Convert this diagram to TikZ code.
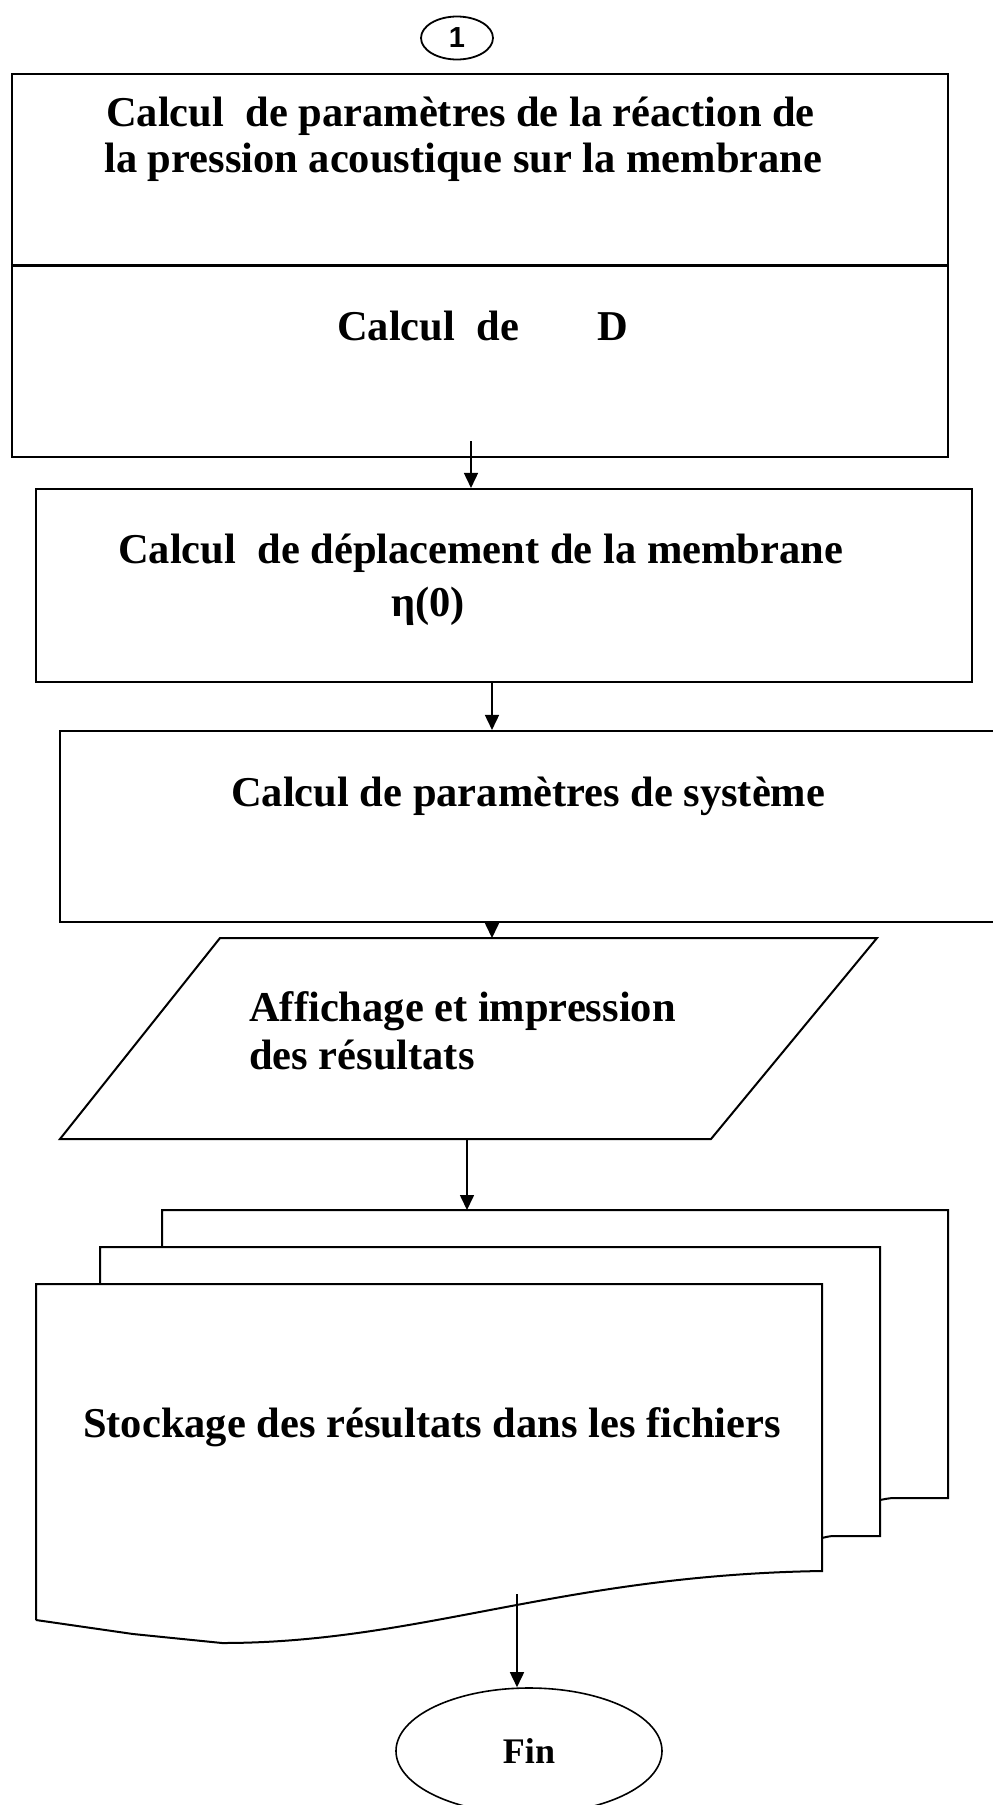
\documentclass[tikz,border=0pt]{standalone}
\usepackage{fontspec}
\setmainfont{Liberation Serif}
\newfontfamily\numfont{Liberation Sans}
\usetikzlibrary{shapes.geometric}
\usetikzlibrary{arrows.meta}

\begin{document}
\begin{tikzpicture}[x=1pt, y=-1pt,
  box/.style={draw, rectangle, line width=2.1pt, inner sep=0pt},
  txt/.style={anchor=base west, inner sep=0pt, font=\bfseries\fontsize{42.5}{46}\selectfont},
  arr/.style={-{Triangle[length=15pt,width=14pt]}, line width=1.6pt},
  doc/.style={line width=2pt}]
\useasboundingbox (0,0) rectangle (993,1805);

% connector
\node[draw, ellipse, line width=1.8pt, minimum width=72pt, minimum height=43pt, inner sep=0pt, font=\numfont\bfseries\fontsize{29}{29}\selectfont] (start) at (457,38) {1};

% blocks
\node[box, minimum width=936pt, minimum height=383pt] (B1) at (480,265.5) {};
\draw[line width=2.8pt] (B1.west) -- (B1.east);
\node[txt] (T1a) at (106,126) {Calcul\ \ de paramètres de la réaction de};
\node[txt] (T1b) at (104,172) {la pression acoustique sur la membrane};
\node[txt] (T1c) at (337,340) {Calcul\ \ de\hspace{79pt}D};

\node[box, minimum width=936pt, minimum height=193pt] (B2) at (504,585.5) {};
\node[txt] (T2a) at (118,563) {Calcul\ \ de déplacement de la membrane};
\node[txt] (T2b) at (391,616) {η(0)};

\node[box, minimum width=950pt, minimum height=191pt] (B3) at (535,826.5) {};
\node[txt] (T3) at (231,806) {Calcul de paramètres de système};

% sortie
\draw[line width=2pt] (220,938) -- (877,938) -- (711,1139) -- (60,1139) -- cycle;
\coordinate (Ptop) at (492,938);
\coordinate (Pbot) at (467,1139);
\node[txt] (T4a) at (249,1021) {Affichage et impression};
\node[txt] (T4b) at (249,1069) {des résultats};

% documents
\draw[doc] (162,1247) -- (162,1210) -- (948,1210) -- (948,1498) -- (900,1498) .. controls (890,1498) .. (880,1500);
\draw[doc] (100,1284) -- (100,1247) -- (880,1247) -- (880,1536) -- (840,1536) .. controls (830,1536) .. (822,1538);
\draw[doc] (36,1620) -- (36,1284) -- (822,1284) -- (822,1571) .. controls (560,1575) and (420,1643) .. (222,1643) -- (133,1634) -- (36,1620);
\coordinate (Dtop) at (467,1210);
\node[txt] (T5) at (83,1437) {Stockage des résultats dans les fichiers};

\node[draw, ellipse, line width=1.6pt, minimum width=266pt, minimum height=126pt, inner sep=0pt, font=\bfseries\fontsize{36}{40}\selectfont] (fin) at (529,1751) {Fin};

% arrows
\coordinate (A1) at (471,441);
\coordinate (A2) at (492,682);
\coordinate (A3) at (492,922);
\coordinate (A5) at (517,1594);
\draw[arr] (A1) -- (A1 |- B2.north);
\draw[arr] (A2) -- (A2 |- B3.north);
\draw[arr] (A3) -- (Ptop);
\draw[arr] (Pbot) -- (Dtop);
\draw[arr] (A5) -- (A5 |- fin.north);
\end{tikzpicture}
\end{document}
